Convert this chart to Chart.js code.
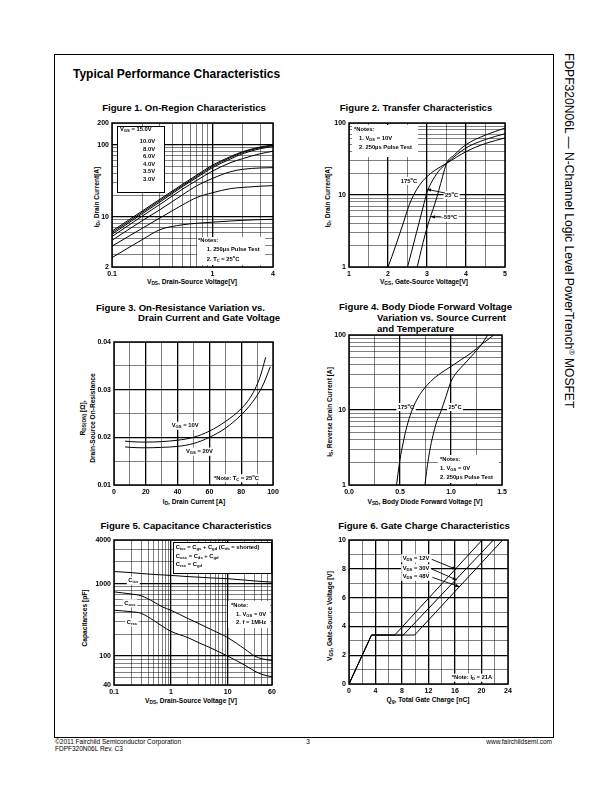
<!DOCTYPE html>
<html>
<head>
<meta charset="utf-8">
<script src="https://cdn.jsdelivr.net/npm/chart.js@4.4.0/dist/chart.umd.min.js"></script>
<style>
  body { margin: 0; width: 612px; height: 792px; position: relative; background: #fff; overflow: hidden;
         font-family: "Liberation Sans", Arial, sans-serif; color: #000; }
  .t { position: absolute; white-space: nowrap; line-height: 1; }
  .c { transform: translate(-50%, -50%); }
  .r { transform: translate(-50%, -50%) rotate(-90deg); }
  .ft { font-size: 9.6px; font-weight: bold; }
  .ax { font-size: 6.6px; font-weight: bold; }
  sub { font-size: 0.72em; vertical-align: -0.25em; line-height: 0; }
  sup { font-size: 0.6em; vertical-align: 0.6em; line-height: 0; }
  #frame { position: absolute; left: 54px; top: 54px; width: 498px; height: 682px; border: 1px solid #000; }
  .foot { font-size: 6.5px; }
</style>
</head>
<body>
<div id="frame"></div>
<div class="t" style="left:73px;top:68px;font-size:12px;font-weight:bold">Typical Performance Characteristics</div>

<div class="t ft c" style="left:184px;top:108px">Figure 1. On-Region Characteristics</div>
<div class="t ft c" style="left:416px;top:108px">Figure 2. Transfer Characteristics</div>
<div class="t ft" style="left:96px;top:303px">Figure 3. On-Resistance Variation vs.</div>
<div class="t ft" style="left:138px;top:313px">Drain Current and Gate Voltage</div>
<div class="t ft" style="left:339px;top:302px">Figure 4. Body Diode Forward Voltage</div>
<div class="t ft" style="left:377px;top:313px">Variation vs. Source Current</div>
<div class="t ft" style="left:377px;top:324px">and Temperature</div>
<div class="t ft c" style="left:186px;top:526px">Figure 5. Capacitance Characteristics</div>
<div class="t ft c" style="left:424px;top:526px">Figure 6. Gate Charge Characteristics</div>

<div class="t ax c" style="left:192px;top:282px">V<sub>DS</sub>, Drain-Source Voltage[V]</div>
<div class="t ax r" style="left:97px;top:197px">I<sub>D</sub>, Drain Current[A]</div>
<div class="t ax c" style="left:424px;top:282px">V<sub>GS</sub>, Gate-Source Voltage[V]</div>
<div class="t ax r" style="left:328px;top:197px">I<sub>D</sub>, Drain Current[A]</div>
<div class="t ax c" style="left:194px;top:502px">I<sub>D</sub>, Drain Current [A]</div>
<div class="t ax r" style="left:83px;top:418px">R<sub>DS(ON)</sub> [Ω],</div>
<div class="t ax r" style="left:93px;top:418px">Drain-Source On-Resistance</div>
<div class="t ax c" style="left:425px;top:502px">V<sub>SD</sub>, Body Diode Forward Voltage [V]</div>
<div class="t ax r" style="left:330px;top:412px">I<sub>S</sub>, Reverse Drain Current [A]</div>
<div class="t ax c" style="left:191px;top:701px">V<sub>DS</sub>, Drain-Source Voltage [V]</div>
<div class="t ax r" style="left:85px;top:618px">Capacitances [pF]</div>
<div class="t ax c" style="left:428px;top:700px">Q<sub>g</sub>, Total Gate Charge [nC]</div>
<div class="t ax r" style="left:330px;top:616px">V<sub>GS</sub>, Gate-Source Voltage [V]</div>

<div class="t" style="left:575px;top:53px;font-size:12.1px;transform-origin:0 0;transform:rotate(90deg)">FDPF320N06L — N-Channel Logic Level PowerTrench<sup>®</sup> MOSFET</div>

<div class="t foot" style="left:55px;top:739px">©2011 Fairchild Semiconductor Corporation</div>
<div class="t foot" style="left:55px;top:746px">FDPF320N06L Rev. C3</div>
<div class="t foot c" style="left:308px;top:742px">3</div>
<div class="t foot" style="right:60px;top:739px">www.fairchildsemi.com</div>

<script>
// ---- Figure 1: On-Region Characteristics ----
const fig1Vds = [0.1, 0.2, 0.3, 0.5, 0.7, 1, 1.5, 2, 3, 4];
const fig1Id15 = [6.3, 12, 17.5, 28, 38, 52, 68, 80, 93, 99];
const fig1Id10 = [6.0, 11.5, 16.8, 27, 36.5, 50, 66, 78, 91, 97];
const fig1Id8 = [5.7, 11, 16, 26, 35, 48, 63, 75, 88, 94];
const fig1Id6 = [5.3, 10.2, 14.8, 24, 32, 43, 56, 64, 75, 81];
const fig1Id4 = [4.7, 8.8, 12.5, 20, 27, 34, 42, 45.5, 47.5, 48];
const fig1Id35 = [3.9, 6.9, 9.6, 14.5, 18.5, 21.5, 24.5, 25.5, 26.5, 27];
const fig1Id3 = [2.7, 4.8, 6.6, 7.7, 8.1, 8.4, 8.7, 8.9, 9.1, 9.2];
const fig1XGrid = [0.1, 0.2, 0.3, 0.4, 0.5, 0.6, 0.7, 0.8, 0.9, 1, 2, 3, 4];
const fig1YGrid = [2, 3, 4, 5, 6, 7, 8, 9, 10, 20, 30, 40, 50, 60, 70, 80, 90, 100, 200];
const fig1XLabels = [[0.1, "0.1"], [1, "1"], [4, "4"]];
const fig1YLabels = [[2, "2"], [10, "10"], [100, "100"], [200, "200"]];

// ---- Figure 2: Transfer Characteristics ----
const fig2Vgs175 = [2.0, 2.1, 2.2, 2.3, 2.4, 2.5, 2.6, 2.8, 3.0, 3.2, 3.5, 4.0, 4.5, 5.0];
const fig2Id175 = [1, 1.4, 2.0, 2.9, 4.2, 6.2, 8.6, 13.5, 18, 22, 27.5, 40, 52, 62];
const fig2Vgs25 = [2.5, 2.6, 2.7, 2.8, 2.9, 3.0, 3.1, 3.2, 3.3, 3.5, 4.0, 4.5, 5.0];
const fig2Id25 = [1, 1.6, 2.6, 4.2, 6.8, 10.8, 14.5, 18, 21.5, 27.5, 45, 59, 71];
const fig2VgsM55 = [2.75, 2.85, 2.95, 3.05, 3.1, 3.2, 3.3, 3.4, 3.5, 3.7, 4.0, 4.5, 5.0];
const fig2IdM55 = [1, 1.7, 2.8, 4.3, 5.2, 7.5, 11.5, 18, 27.5, 36, 50, 68, 85];
const fig2XGrid = [1, 1.5, 2, 2.5, 3, 3.5, 4, 4.5, 5];
const fig2YGrid = [1, 2, 3, 4, 5, 6, 7, 8, 9, 10, 20, 30, 40, 50, 60, 70, 80, 90, 100];
const fig2XLabels = [[1, "1"], [2, "2"], [3, "3"], [4, "4"], [5, "5"]];
const fig2YLabels = [[1, "1"], [10, "10"], [100, "100"]];

// ---- Figure 3: On-Resistance vs Drain Current ----
const fig3Id10 = [7, 10, 20, 30, 40, 50, 60, 70, 80, 85, 88.5, 92, 95.4];
const fig3Rds10 = [0.0192, 0.0191, 0.019, 0.0191, 0.0194, 0.02, 0.0213, 0.0233, 0.026, 0.028, 0.03, 0.0328, 0.0368];
const fig3Id20 = [7, 10, 20, 30, 40, 50, 60, 70, 80, 85, 90, 94, 98.3];
const fig3Rds20 = [0.018, 0.0179, 0.0178, 0.0179, 0.0181, 0.0187, 0.02, 0.0219, 0.0247, 0.0265, 0.0288, 0.0312, 0.0348];
const fig3XGrid = [0, 10, 20, 30, 40, 50, 60, 70, 80, 90, 100];
const fig3YGrid = [0.01, 0.015, 0.02, 0.025, 0.03, 0.035, 0.04];
const fig3XLabels = [[0, "0"], [20, "20"], [40, "40"], [60, "60"], [80, "80"], [100, "100"]];
const fig3YLabels = [[0.01, "0.01"], [0.02, "0.02"], [0.03, "0.03"], [0.04, "0.04"]];

// ---- Figure 4: Body Diode Forward Voltage ----
const fig4Vsd175 = [0.466, 0.48, 0.5, 0.53, 0.56, 0.6, 0.65, 0.7, 0.8, 0.9, 1.0, 1.1, 1.2, 1.3, 1.42];
const fig4Is175 = [1, 1.4, 2.2, 3.6, 5.5, 8.5, 12.5, 16.5, 24, 31, 38, 47, 58, 75, 100];
const fig4Vsd25 = [0.745, 0.76, 0.78, 0.8, 0.83, 0.86, 0.9, 0.95, 1.0, 1.05, 1.1, 1.2, 1.3, 1.36];
const fig4Is25 = [1, 1.5, 2.3, 3.3, 5, 7, 9.5, 15, 24, 31, 37, 52, 75, 100];
const fig4XGrid = [0, 0.25, 0.5, 0.75, 1, 1.25, 1.5];
const fig4YGrid = [1, 2, 3, 4, 5, 6, 7, 8, 9, 10, 20, 30, 40, 50, 60, 70, 80, 90, 100];
const fig4XLabels = [[0, "0.0"], [0.5, "0.5"], [1, "1.0"], [1.5, "1.5"]];
const fig4YLabels = [[1, "1"], [10, "10"], [100, "100"]];

// ---- Figure 5: Capacitance ----
const fig5Vds = [0.1, 0.2, 0.3, 0.5, 0.7, 1, 2, 3, 5, 10, 20, 30, 40, 60];
const fig5Ciss = [1470, 1420, 1380, 1340, 1320, 1300, 1250, 1230, 1200, 1170, 1120, 1090, 1070, 1050];
const fig5Coss = [770, 720, 680, 560, 480, 430, 330, 285, 235, 180, 125, 100, 92, 87];
const fig5Crss = [430, 410, 390, 310, 260, 220, 180, 155, 130, 100, 75, 62, 56, 52];
const fig5XGrid = [0.1, 0.2, 0.3, 0.4, 0.5, 0.6, 0.7, 0.8, 0.9, 1, 2, 3, 4, 5, 6, 7, 8, 9, 10, 20, 30, 40, 50, 60];
const fig5YGrid = [40, 50, 60, 70, 80, 90, 100, 200, 300, 400, 500, 600, 700, 800, 900, 1000, 2000, 3000, 4000];
const fig5XLabels = [[0.1, "0.1"], [1, "1"], [10, "10"], [60, "60"]];
const fig5YLabels = [[40, "40"], [100, "100"], [1000, "1000"], [4000, "4000"]];

// ---- Figure 6: Gate Charge ----
const fig6Qg12 = [0, 3.4, 6.9, 20.1];
const fig6Qg30 = [0, 3.4, 8.2, 21.8];
const fig6Qg48 = [0, 3.4, 9.9, 23.2];
const fig6Vgs = [0, 3.4, 3.4, 10];
const fig6XGrid = [0, 2, 4, 6, 8, 10, 12, 14, 16, 18, 20, 22, 24];
const fig6YGrid = [0, 1, 2, 3, 4, 5, 6, 7, 8, 9, 10];
const fig6XLabels = [[0, "0"], [4, "4"], [8, "8"], [12, "12"], [16, "16"], [20, "20"], [24, "24"]];
const fig6YLabels = [[0, "0"], [2, "2"], [4, "4"], [6, "6"], [8, "8"], [10, "10"]];

const FONT = '"Liberation Sans", Arial, sans-serif';
Chart.defaults.font.family = FONT;
Chart.defaults.color = "#000";

const near = (a, b) => Math.abs(a - b) <= 1e-6 * Math.max(1, Math.abs(b));
const pts = (xs, ys) => xs.map((x, i) => ({ x, y: ys[i] }));

// "V_{GS} = 10V" / "25^{o}C" -> parts with sub/superscripts
function parseRich(s) {
  const out = [];
  const re = /([_^])\{([^}]*)\}/g;
  let last = 0, m;
  while ((m = re.exec(s))) {
    if (m.index > last) out.push({ t: s.slice(last, m.index), m: 0 });
    out.push({ t: m[2], m: m[1] === "_" ? 1 : 2 });
    last = re.lastIndex;
  }
  if (last < s.length) out.push({ t: s.slice(last), m: 0 });
  return out;
}

function drawRich(ctx, s, x, y, size, align, bg) {
  const parts = parseRich(s);
  const fontFor = (m) => `bold ${m ? size * 0.72 : size}px ${FONT}`;
  let w = 0;
  parts.forEach((p) => { ctx.font = fontFor(p.m); p.w = ctx.measureText(p.t).width; w += p.w; });
  let cx = align === "right" ? x - w : align === "center" ? x - w / 2 : x;
  if (bg) {
    ctx.fillStyle = "#fff";
    ctx.fillRect(cx - 1.5, y - size * 0.7, w + 3, size * 1.4);
  }
  ctx.textBaseline = "middle";
  ctx.textAlign = "left";
  ctx.fillStyle = "#000";
  parts.forEach((p) => {
    ctx.font = fontFor(p.m);
    const dy = p.m === 1 ? size * 0.28 : p.m === 2 ? -size * 0.38 : 0;
    ctx.fillText(p.t, cx, y + dy);
    cx += p.w;
  });
}

function notesPlugin(notes) {
  return {
    id: "notes",
    beforeDatasetsDraw(chart) {
      const ctx = chart.ctx, a = chart.chartArea;
      ctx.save();
      (notes.boxes || []).forEach((b) => {
        ctx.fillStyle = "#fff";
        ctx.fillRect(a.left + b[0], a.top + b[1], b[2], b[3]);
        if (b[4]) {
          ctx.strokeStyle = "#000";
          ctx.lineWidth = 1;
          ctx.strokeRect(a.left + b[0] + 0.5, a.top + b[1] + 0.5, b[2], b[3]);
        }
      });
      (notes.texts || []).forEach((t) => {
        drawRich(ctx, t[0], a.left + t[1], a.top + t[2], notes.size || 5.8, t[3] || "left", t[4]);
      });
      ctx.restore();
    },
    afterDatasetsDraw(chart) {
      const ctx = chart.ctx, a = chart.chartArea;
      ctx.save();
      ctx.strokeStyle = "#000";
      ctx.fillStyle = "#000";
      (notes.arrows || []).forEach((r) => {
        const x1 = a.left + r[0], y1 = a.top + r[1], x2 = a.left + r[2], y2 = a.top + r[3];
        const ang = Math.atan2(y2 - y1, x2 - x1);
        ctx.lineWidth = 0.9;
        ctx.beginPath(); ctx.moveTo(x1, y1); ctx.lineTo(x2, y2); ctx.stroke();
        ctx.beginPath();
        ctx.moveTo(x2, y2);
        ctx.lineTo(x2 - 4 * Math.cos(ang) + 1.6 * Math.sin(ang), y2 - 4 * Math.sin(ang) - 1.6 * Math.cos(ang));
        ctx.lineTo(x2 - 4 * Math.cos(ang) - 1.6 * Math.sin(ang), y2 - 4 * Math.sin(ang) + 1.6 * Math.cos(ang));
        ctx.closePath(); ctx.fill();
      });
      ctx.lineWidth = 1.5;
      ctx.strokeRect(a.left, a.top, a.width, a.height);
      ctx.restore();
    }
  };
}

function axis(type, pos, min, max, grid, bold, labels) {
  return {
    type, position: pos, min, max,
    afterBuildTicks: (s) => { s.ticks = grid.map((v) => ({ value: v })); },
    afterFit: (s) => { if (pos === "left") s.width = 24; else s.height = 12; },
    border: { display: false },
    grid: {
      color: "#000",
      drawTicks: false,
      lineWidth: (c) => (c.tick && bold.some((b) => near(b, c.tick.value)) ? 1.3 : 0.5)
    },
    ticks: {
      autoSkip: false, maxRotation: 0, minRotation: 0, padding: 3,
      font: { size: 7, weight: "bold" }, color: "#000",
      callback: (v) => { const l = labels.find((l) => near(l[0], v)); return l ? l[1] : ""; }
    }
  };
}

function line(xs, ys, smooth = true) {
  return {
    data: pts(xs, ys), borderColor: "#000", borderWidth: 1, pointRadius: 0, fill: false,
    tension: 0, cubicInterpolationMode: smooth ? "monotone" : "default"
  };
}

function makeChart(area, x, y, datasets, notes) {
  const cv = document.createElement("canvas");
  const W = area.w + 34, H = area.h + 20;
  cv.width = W; cv.height = H;
  cv.style.cssText = `position:absolute;left:${area.l - 24}px;top:${area.t - 8}px;width:${W}px;height:${H}px`;
  document.body.appendChild(cv);
  new Chart(cv, {
    type: "line",
    data: { datasets },
    options: {
      responsive: false, animation: false, devicePixelRatio: 1,
      layout: { padding: { top: 8, right: 10, left: 0, bottom: 0 } },
      plugins: { legend: { display: false }, tooltip: { enabled: false } },
      scales: { x, y }
    },
    plugins: [notesPlugin(notes)]
  });
}

// Figure 1
makeChart({ l: 112, t: 123, w: 161, h: 144 },
  axis("logarithmic", "bottom", 0.1, 4, fig1XGrid, [1], fig1XLabels),
  axis("logarithmic", "left", 2, 200, fig1YGrid, [10, 100], fig1YLabels),
  [fig1Id15, fig1Id10, fig1Id8, fig1Id6, fig1Id4, fig1Id35, fig1Id3].map((ys) => line(fig1Vds, ys)),
  {
    boxes: [[5, 3, 47, 66, true], [85, 114, 68, 28]],
    texts: [
      ["V_{GS} = 15.0V", 8, 6], ["10.0V", 43, 18.5, "right"], ["8.0V", 43, 26, "right"],
      ["6.0V", 43, 33.5, "right"], ["4.0V", 43, 41, "right"], ["3.5V", 43, 48.5, "right"],
      ["3.0V", 43, 56, "right"],
      ["*Notes:", 86, 117.7], ["1. 250µs Pulse Test", 94.7, 126.5], ["2. T_{C} = 25^{o}C", 94.7, 136]
    ]
  });

// Figure 2
makeChart({ l: 349, t: 123, w: 156, h: 144 },
  axis("linear", "bottom", 1, 5, fig2XGrid, [2, 3, 4], fig2XLabels),
  axis("logarithmic", "left", 1, 100, fig2YGrid, [10], fig2YLabels),
  [line(fig2Vgs175, fig2Id175), line(fig2Vgs25, fig2Id25), line(fig2VgsM55, fig2IdM55)],
  {
    boxes: [[3, 2, 66, 32]],
    texts: [
      ["*Notes:", 5, 6], ["1. V_{DS} = 10V", 10, 15], ["2. 250µs Pulse Test", 10, 24.7],
      ["175^{o}C", 60, 58, "center", true], ["25^{o}C", 96, 72, "left", true], ["-55^{o}C", 93, 94.7, "left", true]
    ],
    arrows: [[96, 70, 78, 66.3], [92.7, 94, 82, 93.7]]
  });

// Figure 3
makeChart({ l: 114, t: 342, w: 159, h: 143 },
  axis("linear", "bottom", 0, 100, fig3XGrid, [20, 40, 60, 80], fig3XLabels),
  axis("linear", "left", 0.01, 0.04, fig3YGrid, [0.02, 0.03], fig3YLabels),
  [line(fig3Id10, fig3Rds10), line(fig3Id20, fig3Rds20)],
  {
    texts: [
      ["V_{GS} = 10V", 57.7, 83.7, "left", true], ["V_{GS} = 20V", 72, 109.7, "left", true],
      ["*Note: T_{C} = 25^{o}C", 100, 136.3, "left", true]
    ]
  });

// Figure 4
makeChart({ l: 349, t: 335, w: 153, h: 150 },
  axis("linear", "bottom", 0, 1.5, fig4XGrid, [0.5, 1], fig4XLabels),
  axis("logarithmic", "left", 1, 100, fig4YGrid, [10], fig4YLabels),
  [line(fig4Vsd175, fig4Is175), line(fig4Vsd25, fig4Is25)],
  {
    boxes: [[89, 120, 61, 28]],
    texts: [
      ["175^{o}C", 57, 72, "center", true], ["25^{o}C", 106, 72, "center", true],
      ["*Notes:", 91, 124.3], ["1. V_{GS} = 0V", 91, 133.3], ["2. 250µs Pulse Test", 91, 142.7]
    ]
  });

// Figure 5
makeChart({ l: 114, t: 540, w: 158, h: 145 },
  axis("logarithmic", "bottom", 0.1, 60, fig5XGrid, [1, 10], fig5XLabels),
  axis("logarithmic", "left", 40, 4000, fig5YGrid, [100, 1000], fig5YLabels),
  [line(fig5Vds, fig5Ciss), line(fig5Vds, fig5Coss), line(fig5Vds, fig5Crss)],
  {
    boxes: [[59, 2, 98, 31, true], [114, 61, 42, 27]],
    texts: [
      ["C_{iss} = C_{gs} + C_{gd} (C_{ds} = shorted)", 61.7, 7.3], ["C_{oss} = C_{ds} + C_{gd}", 61.7, 16.7],
      ["C_{rss} = C_{gd}", 61.7, 24.3],
      ["C_{iss}", 14.3, 40.7, "left", true], ["C_{oss}", 10.3, 63.3, "left", true], ["C_{rss}", 12.7, 82.3, "left", true],
      ["*Note:", 117, 65], ["1. V_{GS} = 0V", 122, 74], ["2. f = 1MHz", 122, 82.7]
    ]
  });

// Figure 6
makeChart({ l: 349, t: 540, w: 159, h: 144 },
  axis("linear", "bottom", 0, 24, fig6XGrid, [4, 8, 12, 16, 20], fig6XLabels),
  axis("linear", "left", 0, 10, fig6YGrid, [2, 4, 6, 8], fig6YLabels),
  [line(fig6Qg12, fig6Vgs, false), line(fig6Qg30, fig6Vgs, false), line(fig6Qg48, fig6Vgs, false)],
  {
    texts: [
      ["V_{DS} = 12V", 53.7, 18.3, "left", true], ["V_{DS} = 30V", 53.7, 28.3, "left", true],
      ["V_{DS} = 48V", 53.7, 36.7, "left", true], ["*Note: I_{D} = 21A", 102.7, 137.7, "left", true]
    ],
    arrows: [[82.7, 19.3, 107, 29.3], [82.7, 29, 107.7, 40], [83.3, 37.3, 110.3, 46.7]]
  });
</script>
</body>
</html>
